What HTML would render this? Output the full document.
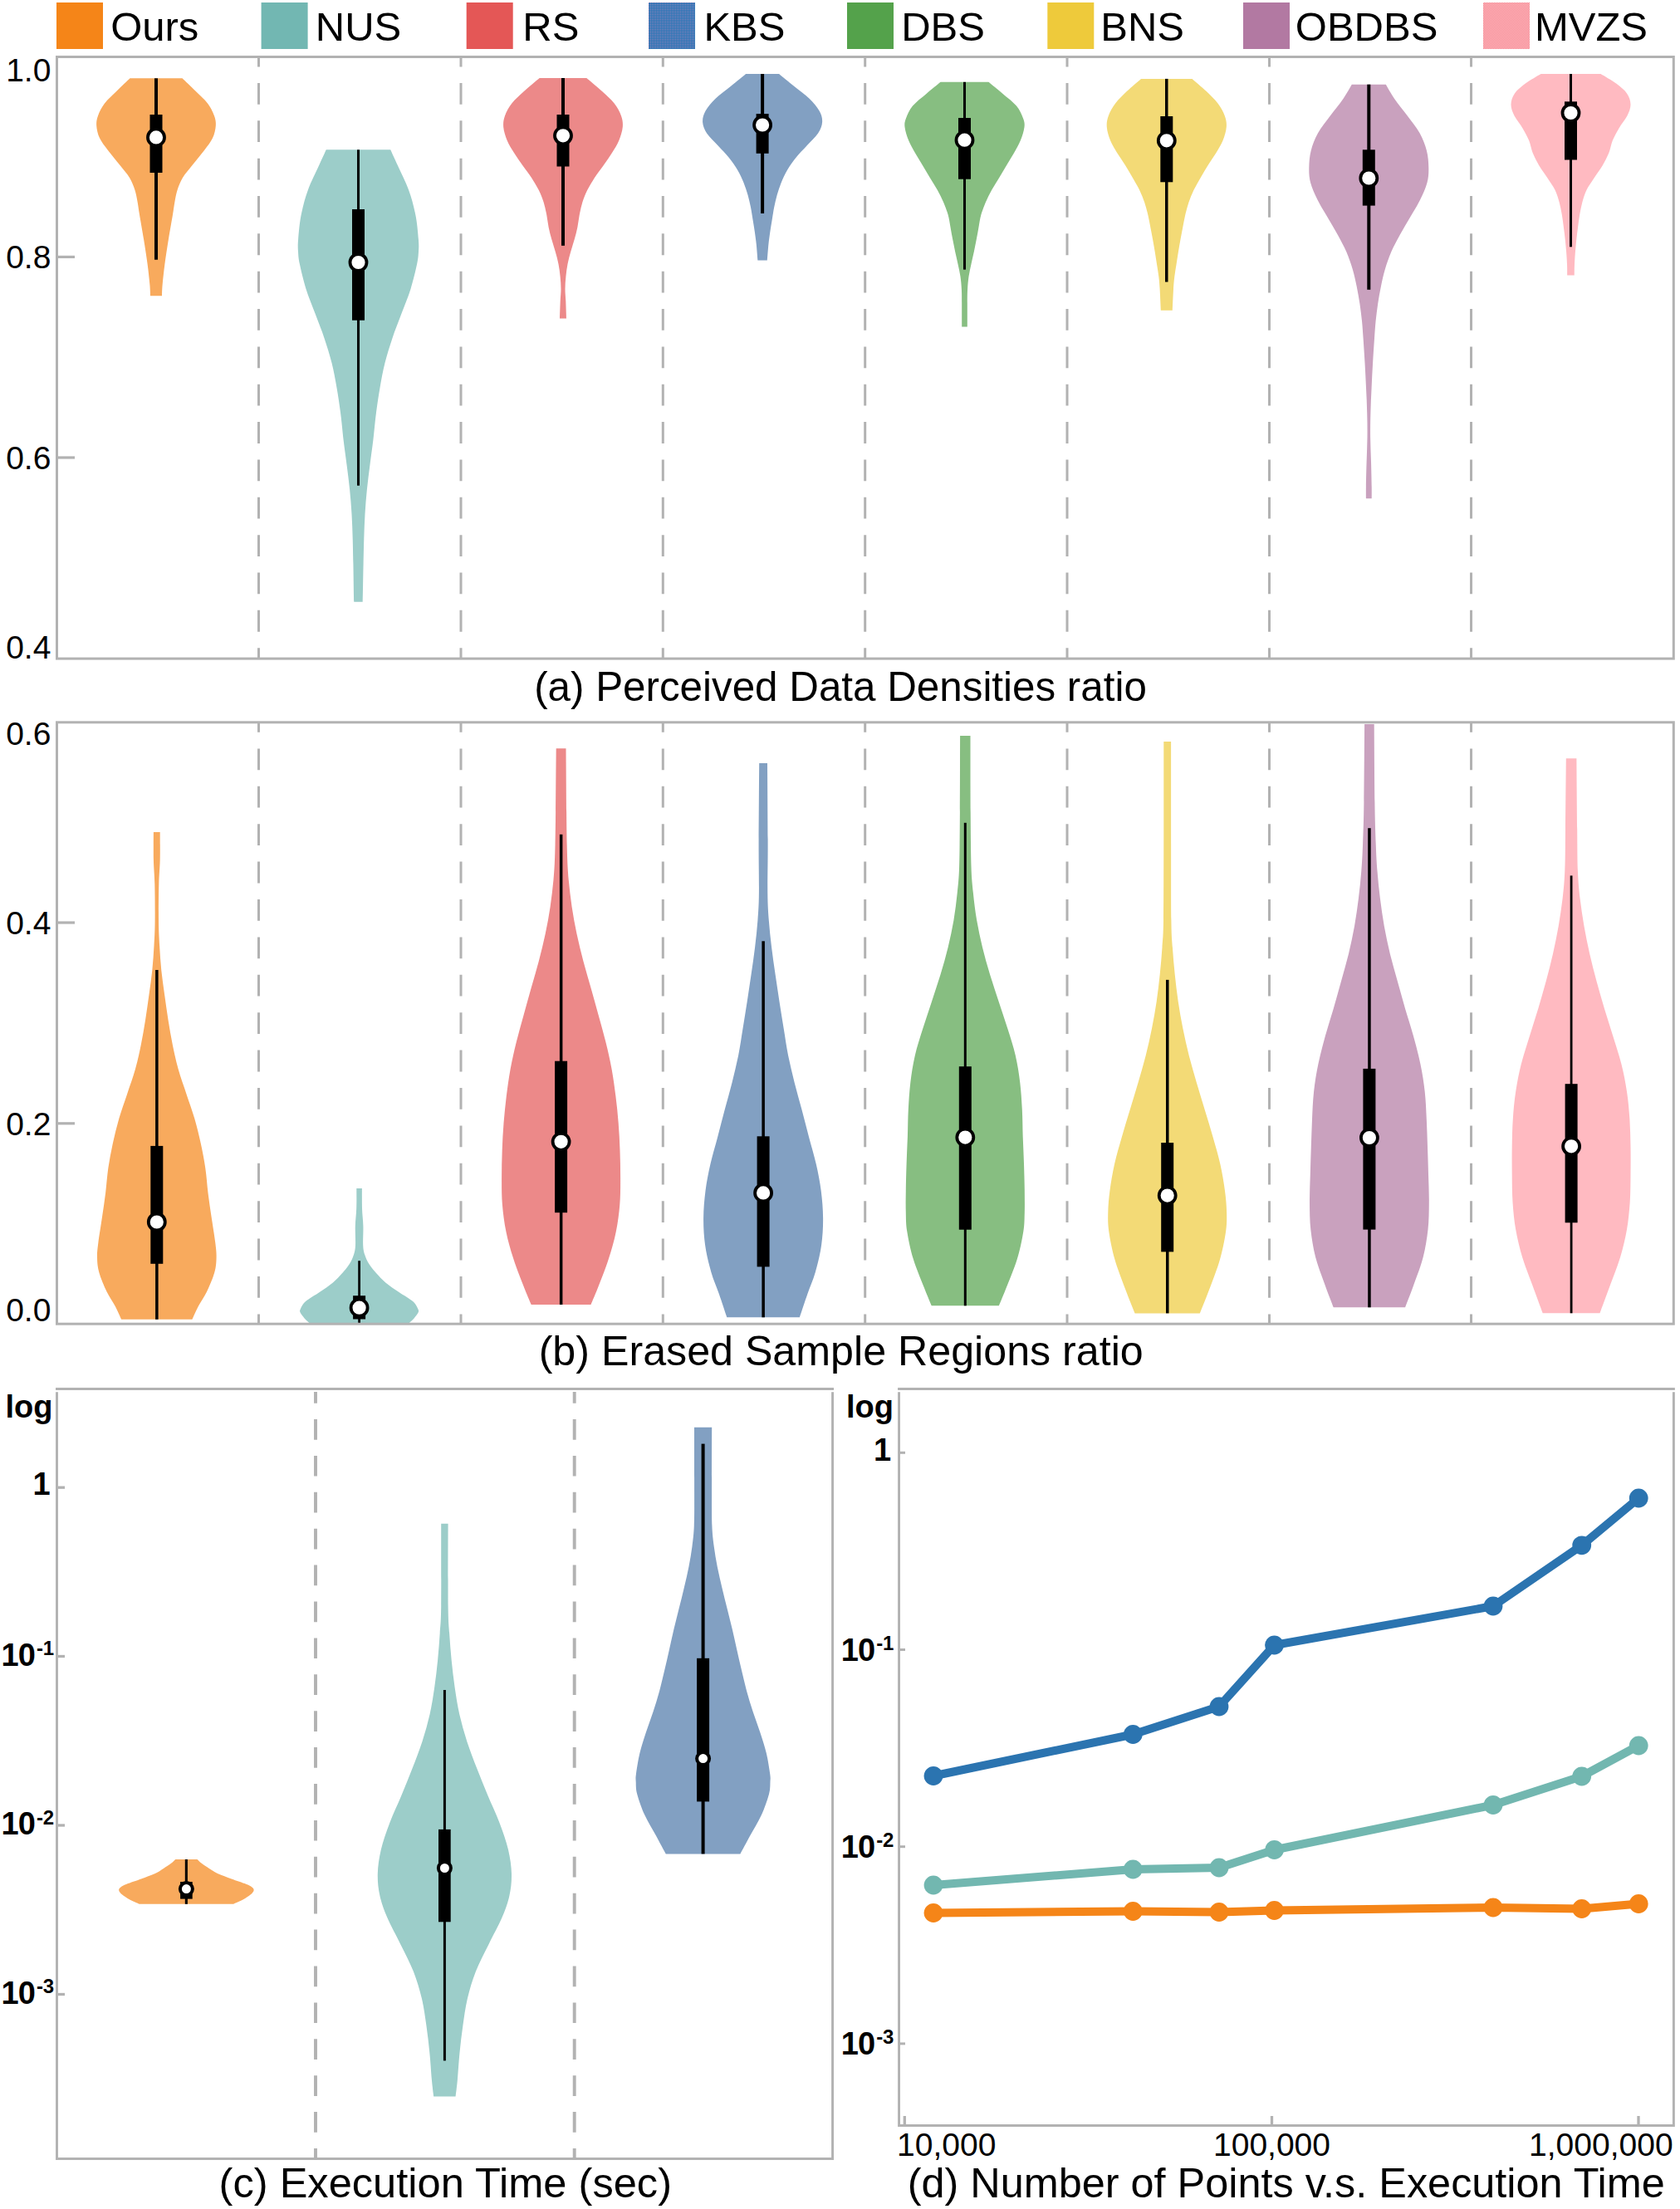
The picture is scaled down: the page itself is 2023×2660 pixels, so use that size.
<!DOCTYPE html>
<html lang="en"><head><meta charset="utf-8"><title>Sampling comparison</title>
<style>html,body{margin:0;padding:0;background:#fff}svg{display:block}</style></head>
<body>
<svg width="2023" height="2660" viewBox="0 0 2023 2660" font-family='"Liberation Sans", Arial, sans-serif' fill="#000">
<rect width="2023" height="2660" fill="#fff"/>
<defs><pattern id="pk" width="2" height="2" patternUnits="userSpaceOnUse"><rect width="2" height="2" fill="#2b77b7"/><rect x="1" y="1" width="1" height="1" fill="#a584b9"/></pattern><pattern id="pm" width="2" height="2" patternUnits="userSpaceOnUse"><rect width="2" height="2" fill="#ffc3c9"/><rect width="1" height="1" fill="#f4808a"/><rect x="1" y="1" width="1" height="1" fill="#f4808a"/></pattern></defs>
<g font-size="49">
<rect x="68.0" y="3" width="56" height="56" fill="#f58518"/>
<text x="133.2" y="49">Ours</text>
<rect x="314.6" y="3" width="56" height="56" fill="#72b7b2"/>
<text x="379.8" y="49">NUS</text>
<rect x="561.7" y="3" width="56" height="56" fill="#e45756"/>
<text x="629.3" y="49">RS</text>
<rect x="781.0" y="3" width="56" height="56" fill="url(#pk)"/>
<text x="847.4" y="49">KBS</text>
<rect x="1020.0" y="3" width="56" height="56" fill="#54a24b"/>
<text x="1085.2" y="49">DBS</text>
<rect x="1261.3" y="3" width="56" height="56" fill="#eeca3b"/>
<text x="1325.3" y="49">BNS</text>
<rect x="1497.0" y="3" width="56" height="56" fill="#b279a2"/>
<text x="1559.8" y="49">OBDBS</text>
<rect x="1786.0" y="3" width="56" height="56" fill="url(#pm)"/>
<text x="1847.9" y="49">MVZS</text>
</g>
<line x1="311.5" y1="68.5" x2="311.5" y2="793.0" stroke="#b2b2b2" stroke-width="3.0" stroke-dasharray="25.8 19.55" stroke-dashoffset="13.9"/>
<line x1="555.0" y1="68.5" x2="555.0" y2="793.0" stroke="#b2b2b2" stroke-width="3.0" stroke-dasharray="25.8 19.55" stroke-dashoffset="13.9"/>
<line x1="798.3" y1="68.5" x2="798.3" y2="793.0" stroke="#b2b2b2" stroke-width="3.0" stroke-dasharray="25.8 19.55" stroke-dashoffset="13.9"/>
<line x1="1041.7" y1="68.5" x2="1041.7" y2="793.0" stroke="#b2b2b2" stroke-width="3.0" stroke-dasharray="25.8 19.55" stroke-dashoffset="13.9"/>
<line x1="1285.0" y1="68.5" x2="1285.0" y2="793.0" stroke="#b2b2b2" stroke-width="3.0" stroke-dasharray="25.8 19.55" stroke-dashoffset="13.9"/>
<line x1="1528.5" y1="68.5" x2="1528.5" y2="793.0" stroke="#b2b2b2" stroke-width="3.0" stroke-dasharray="25.8 19.55" stroke-dashoffset="13.9"/>
<line x1="1771.5" y1="68.5" x2="1771.5" y2="793.0" stroke="#b2b2b2" stroke-width="3.0" stroke-dasharray="25.8 19.55" stroke-dashoffset="13.9"/>
<path d="M219.5 94.3C222.2 96.9 230.5 104.8 235.6 109.8C240.7 114.8 246.3 119.6 250.0 124.6C253.7 129.5 256.4 135.0 258.0 139.5C259.6 144.0 260.1 146.9 259.8 151.4C259.5 155.9 258.3 161.4 256.0 166.3C253.7 171.2 250.1 175.6 246.0 181.0C241.9 186.4 235.8 193.5 231.5 199.0C227.2 204.5 223.0 209.0 220.0 214.0C217.0 219.0 215.2 223.9 213.6 228.8C212.0 233.8 211.2 238.7 210.3 243.7C209.4 248.7 209.2 251.2 208.0 258.6C206.8 266.0 204.5 278.4 202.9 288.3C201.3 298.2 199.6 309.1 198.4 318.0C197.2 326.9 196.3 335.6 195.7 342.0C195.1 348.4 195.1 353.8 195.0 356.2L181.0 356.2C180.9 353.8 180.9 348.4 180.3 342.0C179.7 335.6 178.8 326.9 177.6 318.0C176.4 309.1 174.7 298.2 173.1 288.3C171.5 278.4 169.2 266.0 168.0 258.6C166.8 251.2 166.6 248.7 165.7 243.7C164.8 238.7 164.0 233.8 162.4 228.8C160.8 223.9 159.0 219.0 156.0 214.0C153.0 209.0 148.8 204.5 144.5 199.0C140.2 193.5 134.1 186.4 130.0 181.0C125.9 175.6 122.3 171.2 120.0 166.3C117.7 161.4 116.5 155.9 116.2 151.4C115.9 146.9 116.4 144.0 118.0 139.5C119.6 135.0 122.3 129.5 126.0 124.6C129.7 119.6 135.3 114.8 140.4 109.8C145.5 104.8 153.8 96.9 156.5 94.3Z" fill="#f8aa5d"/>
<rect x="186.0" y="94.3" width="4.0" height="218.4" fill="#000"/>
<rect x="180.5" y="138.0" width="15.0" height="70.0" fill="#000"/>
<circle cx="188.0" cy="165.4" r="10.0" fill="#fff" stroke="#000" stroke-width="3.8"/>
<path d="M470.2 180.3C471.6 183.4 475.1 190.9 478.8 199.0C482.5 207.1 488.5 218.9 492.1 228.8C495.7 238.7 498.3 248.7 500.3 258.6C502.3 268.5 503.3 280.9 503.9 288.3C504.5 295.7 504.3 298.1 504.0 303.0C503.7 307.9 503.7 310.5 502.1 318.0C500.5 325.5 497.6 338.0 494.5 347.9C491.4 357.8 487.2 367.7 483.5 377.6C479.8 387.5 475.7 397.5 472.4 407.4C469.1 417.3 466.0 427.1 463.5 437.0C461.0 446.9 459.2 457.1 457.5 467.0C455.8 476.9 454.4 486.2 453.0 496.7C451.6 507.2 450.6 519.3 449.4 529.8C448.1 540.3 446.8 549.6 445.5 559.5C444.2 569.4 442.9 579.4 441.9 589.3C440.9 599.2 440.1 609.1 439.5 619.0C438.9 628.9 438.6 638.9 438.3 648.8C438.0 658.7 437.9 666.0 437.6 678.6C437.3 691.2 436.9 717.0 436.7 724.7L426.3 724.7C426.1 717.0 425.7 691.2 425.4 678.6C425.1 666.0 425.0 658.7 424.7 648.8C424.4 638.9 424.1 628.9 423.5 619.0C422.9 609.1 422.1 599.2 421.1 589.3C420.1 579.4 418.8 569.4 417.5 559.5C416.2 549.6 414.9 540.3 413.6 529.8C412.4 519.3 411.4 507.2 410.0 496.7C408.6 486.2 407.2 476.9 405.5 467.0C403.8 457.1 402.0 446.9 399.5 437.0C397.0 427.1 393.9 417.3 390.6 407.4C387.3 397.5 383.2 387.5 379.5 377.6C375.8 367.7 371.6 357.8 368.5 347.9C365.4 338.0 362.5 325.5 360.9 318.0C359.3 310.5 359.3 307.9 359.0 303.0C358.7 298.1 358.5 295.7 359.1 288.3C359.7 280.9 360.7 268.5 362.7 258.6C364.7 248.7 367.3 238.7 370.9 228.8C374.5 218.9 380.5 207.1 384.2 199.0C387.9 190.9 391.4 183.4 392.8 180.3Z" fill="#9ccdc9"/>
<rect x="430.0" y="180.3" width="3.0" height="404.4" fill="#000"/>
<rect x="424.0" y="252.0" width="15.0" height="133.7" fill="#000"/>
<circle cx="431.5" cy="316.0" r="10.0" fill="#fff" stroke="#000" stroke-width="3.8"/>
<path d="M706.3 94.0C709.4 96.6 719.2 104.7 724.8 109.8C730.4 114.9 735.8 119.6 739.7 124.6C743.6 129.5 746.3 134.8 748.0 139.5C749.7 144.2 750.2 148.0 749.8 153.0C749.3 158.0 747.4 164.1 745.3 169.3C743.2 174.5 740.1 179.1 737.0 184.0C733.9 188.9 730.3 194.0 726.8 199.0C723.3 204.0 719.2 209.0 716.0 214.0C712.8 219.0 709.8 223.9 707.3 228.8C704.8 233.8 702.9 238.7 701.3 243.7C699.7 248.7 698.8 253.6 697.8 258.6C696.8 263.6 696.4 268.6 695.4 273.5C694.4 278.4 693.1 283.4 691.7 288.3C690.3 293.2 688.6 298.2 687.2 303.2C685.8 308.1 684.5 313.0 683.5 318.0C682.5 323.0 681.9 328.0 681.4 333.0C680.9 338.0 680.5 342.9 680.5 347.9C680.5 352.8 681.0 356.8 681.3 362.7C681.5 368.6 681.9 380.1 682.0 383.6L674.0 383.6C674.1 380.1 674.5 368.6 674.7 362.7C675.0 356.8 675.5 352.8 675.5 347.9C675.5 342.9 675.1 338.0 674.6 333.0C674.1 328.0 673.5 323.0 672.5 318.0C671.5 313.0 670.2 308.1 668.8 303.2C667.4 298.2 665.7 293.2 664.3 288.3C662.9 283.4 661.6 278.4 660.6 273.5C659.6 268.6 659.2 263.6 658.2 258.6C657.2 253.6 656.3 248.7 654.7 243.7C653.1 238.7 651.2 233.8 648.7 228.8C646.2 223.9 643.2 219.0 640.0 214.0C636.8 209.0 632.7 204.0 629.2 199.0C625.7 194.0 622.1 188.9 619.0 184.0C615.9 179.1 612.8 174.5 610.7 169.3C608.6 164.1 606.7 158.0 606.2 153.0C605.8 148.0 606.3 144.2 608.0 139.5C609.7 134.8 612.4 129.5 616.3 124.6C620.2 119.6 625.6 114.9 631.2 109.8C636.8 104.7 646.6 96.6 649.7 94.0Z" fill="#ec8989"/>
<rect x="676.0" y="94.0" width="4.0" height="201.8" fill="#000"/>
<rect x="670.5" y="138.0" width="15.0" height="62.5" fill="#000"/>
<circle cx="678.0" cy="163.3" r="10.0" fill="#fff" stroke="#000" stroke-width="3.8"/>
<path d="M938.1 89.0C941.1 91.5 950.0 98.8 956.1 103.8C962.2 108.8 969.5 113.7 974.6 118.7C979.7 123.7 984.0 128.9 986.6 133.6C989.2 138.3 990.4 142.5 990.1 147.0C989.9 151.5 988.2 155.7 985.1 160.4C982.0 165.1 976.2 170.3 971.7 175.2C967.2 180.1 962.3 185.0 958.3 190.0C954.3 195.0 950.8 200.0 947.9 205.0C945.0 210.0 942.7 215.0 940.7 220.0C938.7 225.0 937.1 229.9 935.7 234.8C934.3 239.7 933.2 244.7 932.2 249.6C931.2 254.5 930.5 259.5 929.7 264.5C928.9 269.5 928.0 274.4 927.3 279.4C926.6 284.4 926.0 288.6 925.4 294.3C924.8 300.0 924.1 310.4 923.8 313.6L912.4 313.6C912.1 310.4 911.4 300.0 910.8 294.3C910.2 288.6 909.6 284.4 908.9 279.4C908.2 274.4 907.3 269.5 906.5 264.5C905.7 259.5 905.0 254.5 904.0 249.6C903.0 244.7 901.9 239.7 900.5 234.8C899.1 229.9 897.5 225.0 895.5 220.0C893.5 215.0 891.2 210.0 888.3 205.0C885.4 200.0 881.9 195.0 877.9 190.0C873.9 185.0 869.0 180.1 864.5 175.2C860.0 170.3 854.2 165.1 851.1 160.4C848.0 155.7 846.4 151.5 846.1 147.0C845.9 142.5 847.0 138.3 849.6 133.6C852.2 128.9 856.5 123.7 861.6 118.7C866.7 113.7 874.0 108.8 880.1 103.8C886.2 98.8 895.1 91.5 898.1 89.0Z" fill="#82a0c2"/>
<rect x="916.1" y="89.0" width="4.0" height="168.0" fill="#000"/>
<rect x="910.6" y="137.0" width="15.0" height="47.8" fill="#000"/>
<circle cx="918.1" cy="150.5" r="10.0" fill="#fff" stroke="#000" stroke-width="3.8"/>
<path d="M1190.4 98.8C1193.2 101.1 1201.7 107.9 1207.3 112.7C1212.9 117.5 1219.9 122.6 1224.0 127.6C1228.1 132.6 1230.4 138.3 1232.0 142.5C1233.6 146.7 1234.0 148.5 1233.5 153.0C1233.0 157.5 1230.9 164.1 1228.8 169.3C1226.7 174.5 1223.8 179.2 1221.0 184.2C1218.2 189.1 1215.1 194.0 1212.1 199.0C1209.1 204.0 1206.2 209.0 1203.2 214.0C1200.2 219.0 1196.9 223.9 1194.2 228.8C1191.5 233.8 1188.9 238.7 1186.8 243.7C1184.7 248.7 1182.8 253.6 1181.4 258.6C1180.0 263.6 1179.4 268.6 1178.5 273.5C1177.6 278.4 1176.8 283.4 1175.8 288.3C1174.8 293.2 1173.8 298.2 1172.8 303.2C1171.8 308.1 1170.5 313.0 1169.5 318.0C1168.5 323.0 1167.2 328.0 1166.5 333.0C1165.8 338.0 1165.4 342.6 1165.1 347.9C1164.8 353.2 1164.8 357.4 1164.8 365.0C1164.8 372.6 1164.8 388.7 1164.8 393.4L1158.2 393.4C1158.2 388.7 1158.2 372.6 1158.2 365.0C1158.2 357.4 1158.2 353.2 1157.9 347.9C1157.6 342.6 1157.2 338.0 1156.5 333.0C1155.8 328.0 1154.5 323.0 1153.5 318.0C1152.5 313.0 1151.2 308.1 1150.2 303.2C1149.2 298.2 1148.2 293.2 1147.2 288.3C1146.2 283.4 1145.4 278.4 1144.5 273.5C1143.6 268.6 1143.0 263.6 1141.6 258.6C1140.2 253.6 1138.3 248.7 1136.2 243.7C1134.1 238.7 1131.5 233.8 1128.8 228.8C1126.1 223.9 1122.8 219.0 1119.8 214.0C1116.8 209.0 1113.9 204.0 1110.9 199.0C1107.9 194.0 1104.8 189.1 1102.0 184.2C1099.2 179.2 1096.3 174.5 1094.2 169.3C1092.1 164.1 1090.0 157.5 1089.5 153.0C1089.0 148.5 1089.4 146.7 1091.0 142.5C1092.6 138.3 1094.9 132.6 1099.0 127.6C1103.1 122.6 1110.1 117.5 1115.7 112.7C1121.3 107.9 1129.8 101.1 1132.6 98.8Z" fill="#87be81"/>
<rect x="1160.0" y="98.8" width="3.0" height="225.8" fill="#000"/>
<rect x="1154.0" y="142.0" width="15.0" height="73.7" fill="#000"/>
<circle cx="1161.5" cy="168.7" r="10.0" fill="#fff" stroke="#000" stroke-width="3.8"/>
<path d="M1435.6 94.9C1438.4 97.4 1447.3 104.8 1452.5 109.8C1457.7 114.8 1462.8 119.6 1466.5 124.6C1470.2 129.5 1473.1 134.8 1474.8 139.5C1476.5 144.2 1477.2 148.0 1476.8 153.0C1476.4 158.0 1474.6 164.1 1472.5 169.3C1470.4 174.5 1467.3 179.2 1464.3 184.2C1461.3 189.1 1457.7 194.0 1454.6 199.0C1451.5 204.0 1448.5 209.0 1445.7 214.0C1442.9 219.0 1439.9 223.9 1437.5 228.8C1435.1 233.8 1433.1 238.7 1431.4 243.7C1429.7 248.7 1428.5 253.6 1427.3 258.6C1426.1 263.6 1425.3 268.6 1424.3 273.5C1423.3 278.4 1422.4 283.4 1421.5 288.3C1420.6 293.2 1419.7 298.2 1418.9 303.2C1418.1 308.1 1417.4 313.0 1416.6 318.0C1415.8 323.0 1414.9 328.0 1414.3 333.0C1413.7 338.0 1413.4 341.1 1413.0 347.9C1412.6 354.7 1412.0 369.5 1411.8 373.8L1397.8 373.8C1397.6 369.5 1397.0 354.7 1396.6 347.9C1396.2 341.1 1395.9 338.0 1395.3 333.0C1394.7 328.0 1393.8 323.0 1393.0 318.0C1392.2 313.0 1391.5 308.1 1390.7 303.2C1389.9 298.2 1389.0 293.2 1388.1 288.3C1387.2 283.4 1386.3 278.4 1385.3 273.5C1384.3 268.6 1383.5 263.6 1382.3 258.6C1381.1 253.6 1379.9 248.7 1378.2 243.7C1376.5 238.7 1374.5 233.8 1372.1 228.8C1369.7 223.9 1366.7 219.0 1363.9 214.0C1361.0 209.0 1358.1 204.0 1355.0 199.0C1351.9 194.0 1348.3 189.1 1345.3 184.2C1342.3 179.2 1339.2 174.5 1337.1 169.3C1335.0 164.1 1333.2 158.0 1332.8 153.0C1332.4 148.0 1333.1 144.2 1334.8 139.5C1336.5 134.8 1339.4 129.5 1343.1 124.6C1346.8 119.6 1351.9 114.8 1357.1 109.8C1362.2 104.8 1371.2 97.4 1374.0 94.9Z" fill="#f3da76"/>
<rect x="1403.0" y="94.9" width="3.5" height="244.6" fill="#000"/>
<rect x="1397.3" y="140.0" width="15.0" height="79.3" fill="#000"/>
<circle cx="1404.8" cy="169.3" r="10.0" fill="#fff" stroke="#000" stroke-width="3.8"/>
<path d="M1668.8 101.7C1670.5 104.5 1674.7 112.4 1679.0 118.7C1683.3 125.0 1689.7 132.6 1694.8 139.5C1699.9 146.4 1705.9 153.5 1709.7 160.4C1713.5 167.3 1716.1 174.3 1717.9 181.2C1719.7 188.1 1720.2 195.6 1720.3 202.0C1720.4 208.4 1720.2 213.5 1718.5 219.9C1716.8 226.3 1713.4 233.8 1710.0 240.7C1706.6 247.6 1702.1 254.6 1698.1 261.5C1694.1 268.4 1689.7 275.4 1685.9 282.4C1682.1 289.3 1678.3 296.3 1675.3 303.2C1672.3 310.1 1670.0 317.1 1667.9 324.0C1665.8 330.9 1664.3 337.9 1662.9 344.9C1661.4 351.8 1660.2 358.8 1659.2 365.7C1658.2 372.6 1657.3 379.6 1656.6 386.5C1655.9 393.4 1655.6 399.0 1655.0 407.4C1654.4 415.8 1653.7 427.1 1653.1 437.0C1652.5 446.9 1652.0 457.1 1651.6 467.0C1651.1 476.9 1650.6 486.8 1650.4 496.7C1650.1 506.6 1650.0 516.5 1650.1 526.4C1650.2 536.3 1650.7 546.1 1651.0 556.0C1651.3 565.9 1651.6 578.6 1651.7 586.0C1651.8 593.4 1651.7 597.8 1651.7 600.2L1644.9 600.2C1644.9 597.8 1644.8 593.4 1644.9 586.0C1645.0 578.6 1645.3 565.9 1645.6 556.0C1645.9 546.1 1646.4 536.3 1646.5 526.4C1646.6 516.5 1646.5 506.6 1646.2 496.7C1646.0 486.8 1645.5 476.9 1645.0 467.0C1644.5 457.1 1644.1 446.9 1643.5 437.0C1642.9 427.1 1642.2 415.8 1641.6 407.4C1641.0 399.0 1640.7 393.4 1640.0 386.5C1639.3 379.6 1638.4 372.6 1637.4 365.7C1636.3 358.8 1635.2 351.8 1633.7 344.9C1632.2 337.9 1630.8 330.9 1628.7 324.0C1626.6 317.1 1624.3 310.1 1621.3 303.2C1618.3 296.3 1614.5 289.3 1610.7 282.4C1606.9 275.4 1602.5 268.4 1598.5 261.5C1594.5 254.6 1590.0 247.6 1586.6 240.7C1583.2 233.8 1579.8 226.3 1578.1 219.9C1576.4 213.5 1576.2 208.4 1576.3 202.0C1576.4 195.6 1576.9 188.1 1578.7 181.2C1580.5 174.3 1583.0 167.3 1586.9 160.4C1590.7 153.5 1596.7 146.4 1601.8 139.5C1606.9 132.6 1613.3 125.0 1617.6 118.7C1621.9 112.4 1626.1 104.5 1627.8 101.7Z" fill="#c9a1be"/>
<rect x="1646.3" y="101.7" width="4.0" height="247.1" fill="#000"/>
<rect x="1640.8" y="180.3" width="15.0" height="67.3" fill="#000"/>
<circle cx="1648.3" cy="214.5" r="10.0" fill="#fff" stroke="#000" stroke-width="3.8"/>
<path d="M1927.5 89.0C1930.7 91.0 1941.2 96.8 1946.5 100.8C1951.8 104.8 1956.4 108.5 1959.2 112.7C1962.0 116.9 1963.5 121.5 1963.5 126.0C1963.5 130.5 1961.7 134.8 1959.4 139.5C1957.1 144.2 1952.4 149.4 1949.5 154.4C1946.6 159.4 1943.8 164.3 1941.8 169.3C1939.8 174.3 1939.3 179.2 1937.3 184.2C1935.3 189.1 1932.8 194.0 1929.9 199.0C1927.0 204.0 1923.0 209.0 1919.8 214.0C1916.6 219.0 1912.9 223.9 1910.5 228.8C1908.1 233.8 1906.7 238.7 1905.3 243.7C1903.9 248.7 1903.1 253.6 1902.2 258.6C1901.3 263.6 1900.8 268.6 1900.1 273.5C1899.4 278.4 1898.8 283.4 1898.3 288.3C1897.8 293.2 1897.3 298.2 1896.9 303.2C1896.5 308.1 1896.2 313.3 1896.0 318.0C1895.8 322.7 1895.8 329.2 1895.8 331.5L1887.2 331.5C1887.2 329.2 1887.2 322.7 1887.0 318.0C1886.8 313.3 1886.5 308.1 1886.1 303.2C1885.7 298.2 1885.2 293.2 1884.7 288.3C1884.2 283.4 1883.6 278.4 1882.9 273.5C1882.2 268.6 1881.7 263.6 1880.8 258.6C1879.9 253.6 1879.1 248.7 1877.7 243.7C1876.3 238.7 1874.9 233.8 1872.5 228.8C1870.1 223.9 1866.4 219.0 1863.2 214.0C1860.0 209.0 1856.0 204.0 1853.1 199.0C1850.2 194.0 1847.7 189.1 1845.7 184.2C1843.7 179.2 1843.2 174.3 1841.2 169.3C1839.2 164.3 1836.4 159.4 1833.5 154.4C1830.6 149.4 1825.9 144.2 1823.6 139.5C1821.3 134.8 1819.5 130.5 1819.5 126.0C1819.5 121.5 1821.0 116.9 1823.8 112.7C1826.6 108.5 1831.2 104.8 1836.5 100.8C1841.8 96.8 1852.3 91.0 1855.5 89.0Z" fill="#ffbac1"/>
<rect x="1890.0" y="89.0" width="3.0" height="208.3" fill="#000"/>
<rect x="1884.0" y="122.3" width="15.0" height="70.2" fill="#000"/>
<circle cx="1891.5" cy="136.0" r="10.0" fill="#fff" stroke="#000" stroke-width="3.8"/>
<rect x="68.5" y="68.5" width="1946.8" height="724.6" fill="none" stroke="#b2b2b2" stroke-width="3.0"/>
<line x1="70.0" y1="309.4" x2="90.0" y2="309.4" stroke="#b2b2b2" stroke-width="3.2"/>
<line x1="70.0" y1="551.0" x2="90.0" y2="551.0" stroke="#b2b2b2" stroke-width="3.2"/>
<g font-size="39" text-anchor="end">
<text x="61.4" y="97.6">1.0</text>
<text x="61.4" y="323.2">0.8</text>
<text x="61.4" y="564.8">0.6</text>
<text x="61.4" y="792.7">0.4</text>
</g>
<text x="1012" y="843.6" font-size="49.35" text-anchor="middle">(a) Perceived Data Densities ratio</text>
<line x1="311.5" y1="869.8" x2="311.5" y2="1594.0" stroke="#b2b2b2" stroke-width="3.0" stroke-dasharray="25.8 19.6" stroke-dashoffset="13.8"/>
<line x1="555.0" y1="869.8" x2="555.0" y2="1594.0" stroke="#b2b2b2" stroke-width="3.0" stroke-dasharray="25.8 19.6" stroke-dashoffset="13.8"/>
<line x1="798.3" y1="869.8" x2="798.3" y2="1594.0" stroke="#b2b2b2" stroke-width="3.0" stroke-dasharray="25.8 19.6" stroke-dashoffset="13.8"/>
<line x1="1041.7" y1="869.8" x2="1041.7" y2="1594.0" stroke="#b2b2b2" stroke-width="3.0" stroke-dasharray="25.8 19.6" stroke-dashoffset="13.8"/>
<line x1="1285.0" y1="869.8" x2="1285.0" y2="1594.0" stroke="#b2b2b2" stroke-width="3.0" stroke-dasharray="25.8 19.6" stroke-dashoffset="13.8"/>
<line x1="1528.5" y1="869.8" x2="1528.5" y2="1594.0" stroke="#b2b2b2" stroke-width="3.0" stroke-dasharray="25.8 19.6" stroke-dashoffset="13.8"/>
<line x1="1771.5" y1="869.8" x2="1771.5" y2="1594.0" stroke="#b2b2b2" stroke-width="3.0" stroke-dasharray="25.8 19.6" stroke-dashoffset="13.8"/>
<clipPath id="cb"><rect x="68" y="868" width="1948" height="1726.2"/></clipPath>
<path d="M192.7 1001.9C192.7 1007.3 192.9 1024.2 192.7 1034.6C192.5 1045.0 191.6 1052.0 191.3 1064.4C191.0 1076.8 190.9 1096.6 191.0 1109.0C191.1 1121.4 191.6 1128.9 192.1 1138.8C192.7 1148.7 193.3 1158.7 194.3 1168.6C195.3 1178.5 196.8 1188.4 198.2 1198.3C199.6 1208.2 200.9 1218.1 202.5 1228.0C204.1 1237.9 205.8 1248.0 207.8 1257.9C209.8 1267.8 211.9 1277.7 214.7 1287.6C217.5 1297.5 221.2 1307.5 224.5 1317.4C227.8 1327.3 231.4 1337.1 234.3 1347.0C237.2 1356.9 239.6 1367.0 241.8 1377.0C244.0 1387.0 245.9 1396.8 247.3 1406.7C248.8 1416.6 249.3 1426.5 250.5 1436.4C251.7 1446.3 253.2 1456.1 254.7 1466.0C256.2 1475.9 258.2 1488.0 259.2 1496.0C260.2 1504.0 260.7 1507.8 260.6 1513.8C260.5 1519.8 260.3 1524.8 258.4 1531.7C256.5 1538.7 252.3 1548.6 249.0 1555.5C245.7 1562.4 241.7 1567.5 238.8 1573.0C235.9 1578.5 232.7 1586.2 231.5 1588.8L146.1 1588.8C144.9 1586.2 141.7 1578.5 138.8 1573.0C135.9 1567.5 131.9 1562.4 128.6 1555.5C125.3 1548.6 121.1 1538.7 119.2 1531.7C117.3 1524.8 117.1 1519.8 117.0 1513.8C116.9 1507.8 117.4 1504.0 118.4 1496.0C119.4 1488.0 121.5 1475.9 122.9 1466.0C124.4 1456.1 125.9 1446.3 127.1 1436.4C128.3 1426.5 128.9 1416.6 130.3 1406.7C131.8 1396.8 133.6 1387.0 135.8 1377.0C138.0 1367.0 140.4 1356.9 143.3 1347.0C146.2 1337.1 149.8 1327.3 153.1 1317.4C156.4 1307.5 160.1 1297.5 162.9 1287.6C165.7 1277.7 167.8 1267.8 169.8 1257.9C171.8 1248.0 173.5 1237.9 175.1 1228.0C176.7 1218.1 178.0 1208.2 179.4 1198.3C180.8 1188.4 182.3 1178.5 183.3 1168.6C184.3 1158.7 184.9 1148.7 185.5 1138.8C186.1 1128.9 186.5 1121.4 186.6 1109.0C186.7 1096.6 186.6 1076.8 186.3 1064.4C186.0 1052.0 185.1 1045.0 184.9 1034.6C184.7 1024.2 184.9 1007.3 184.9 1001.9Z" fill="#f8aa5d"/>
<rect x="187.1" y="1168.0" width="3.5" height="420.8" fill="#000"/>
<rect x="181.3" y="1379.9" width="15.0" height="141.9" fill="#000"/>
<circle cx="188.8" cy="1471.5" r="10.0" fill="#fff" stroke="#000" stroke-width="3.8"/>
<path d="M435.9 1431.0C435.9 1435.0 435.8 1447.4 436.0 1455.0C436.2 1462.6 437.2 1469.1 437.4 1476.5C437.6 1483.9 436.9 1493.5 437.2 1499.2C437.5 1504.9 437.9 1506.7 439.1 1510.5C440.3 1514.3 441.9 1518.0 444.2 1521.8C446.5 1525.5 449.6 1529.2 453.0 1533.0C456.4 1536.8 459.8 1540.6 464.3 1544.4C468.8 1548.2 474.6 1551.9 480.1 1555.7C485.6 1559.5 493.2 1563.6 497.1 1567.0C501.0 1570.4 502.1 1573.7 503.2 1576.0C504.3 1578.3 504.4 1578.7 503.6 1580.6C502.8 1582.5 500.5 1585.2 498.6 1587.4C496.7 1589.6 493.2 1592.5 492.1 1593.5L373.1 1593.5C372.0 1592.5 368.5 1589.6 366.6 1587.4C364.7 1585.2 362.4 1582.5 361.6 1580.6C360.8 1578.7 360.9 1578.3 362.0 1576.0C363.1 1573.7 364.2 1570.4 368.1 1567.0C372.0 1563.6 379.6 1559.5 385.1 1555.7C390.6 1551.9 396.4 1548.2 400.9 1544.4C405.4 1540.6 408.9 1536.8 412.2 1533.0C415.6 1529.2 418.7 1525.5 421.0 1521.8C423.3 1518.0 424.9 1514.3 426.1 1510.5C427.3 1506.7 427.7 1504.9 428.0 1499.2C428.3 1493.5 427.6 1483.9 427.8 1476.5C428.0 1469.1 429.0 1462.6 429.2 1455.0C429.5 1447.4 429.3 1435.0 429.3 1431.0Z" fill="#9ccdc9"/>
<rect x="431.2" y="1518.2" width="2.8" height="75.3" fill="#000"/>
<rect x="425.1" y="1560.2" width="15.0" height="28.3" fill="#000"/>
<circle cx="432.6" cy="1574.7" r="10.0" fill="#fff" stroke="#000" stroke-width="3.8"/>
<path d="M681.5 901.2C681.6 914.0 681.9 956.9 682.1 977.8C682.3 998.7 682.5 1013.1 682.9 1026.7C683.3 1040.3 683.8 1048.4 684.7 1059.3C685.7 1070.2 687.0 1081.0 688.6 1091.9C690.2 1102.8 692.2 1113.7 694.5 1124.5C696.8 1135.3 699.5 1146.2 702.3 1157.0C705.1 1167.8 708.5 1178.7 711.5 1189.6C714.5 1200.5 717.6 1211.3 720.6 1222.2C723.6 1233.1 726.7 1243.9 729.4 1254.8C732.1 1265.7 734.6 1276.5 736.6 1287.4C738.6 1298.3 740.0 1309.1 741.4 1320.0C742.8 1330.9 743.9 1341.7 744.7 1352.6C745.6 1363.5 746.1 1374.3 746.5 1385.2C746.9 1396.1 747.1 1406.9 747.1 1417.8C747.1 1428.7 747.2 1439.5 746.3 1450.4C745.4 1461.3 744.0 1472.1 741.8 1483.0C739.6 1493.9 736.5 1504.7 733.0 1515.6C729.5 1526.5 724.5 1539.0 720.9 1548.2C717.3 1557.4 713.1 1567.2 711.5 1571.0L639.7 1571.0C638.1 1567.2 633.9 1557.4 630.3 1548.2C626.7 1539.0 621.7 1526.5 618.2 1515.6C614.7 1504.7 611.6 1493.9 609.4 1483.0C607.2 1472.1 605.8 1461.3 604.9 1450.4C604.0 1439.5 604.1 1428.7 604.1 1417.8C604.1 1406.9 604.3 1396.1 604.7 1385.2C605.1 1374.3 605.6 1363.5 606.5 1352.6C607.4 1341.7 608.5 1330.9 609.8 1320.0C611.2 1309.1 612.6 1298.3 614.6 1287.4C616.6 1276.5 619.1 1265.7 621.8 1254.8C624.5 1243.9 627.6 1233.1 630.6 1222.2C633.6 1211.3 636.7 1200.5 639.7 1189.6C642.8 1178.7 646.1 1167.8 648.9 1157.0C651.7 1146.2 654.4 1135.3 656.7 1124.5C659.0 1113.7 661.0 1102.8 662.6 1091.9C664.2 1081.0 665.5 1070.2 666.5 1059.3C667.5 1048.4 667.9 1040.3 668.3 1026.7C668.7 1013.1 668.9 998.7 669.1 977.8C669.3 956.9 669.6 914.0 669.7 901.2Z" fill="#ec8989"/>
<rect x="673.9" y="1004.8" width="3.5" height="566.2" fill="#000"/>
<rect x="668.1" y="1277.7" width="15.0" height="182.5" fill="#000"/>
<circle cx="675.6" cy="1374.8" r="10.0" fill="#fff" stroke="#000" stroke-width="3.8"/>
<path d="M924.0 919.1C924.1 934.3 924.5 984.3 924.6 1010.4C924.7 1036.5 924.1 1059.3 924.3 1075.6C924.5 1091.9 925.0 1097.3 925.8 1108.2C926.6 1119.1 927.8 1130.0 929.1 1140.8C930.4 1151.6 932.0 1162.4 933.6 1173.3C935.2 1184.2 936.8 1195.1 938.5 1206.0C940.2 1216.9 941.9 1227.7 943.7 1238.5C945.5 1249.3 946.9 1260.1 949.1 1271.0C951.3 1281.9 954.0 1292.8 956.7 1303.7C959.4 1314.6 962.6 1325.4 965.5 1336.3C968.4 1347.2 971.1 1358.0 974.0 1368.9C976.9 1379.8 980.2 1390.7 982.7 1401.5C985.2 1412.3 987.3 1423.1 988.7 1434.0C990.1 1444.9 991.0 1455.8 991.1 1466.7C991.2 1477.6 990.6 1488.4 989.1 1499.3C987.6 1510.2 984.6 1522.1 981.8 1531.9C979.0 1541.7 975.5 1548.9 972.4 1558.0C969.2 1567.1 964.5 1581.6 962.9 1586.3L875.3 1586.3C873.7 1581.6 869.0 1567.1 865.8 1558.0C862.7 1548.9 859.2 1541.7 856.4 1531.9C853.6 1522.1 850.6 1510.2 849.1 1499.3C847.6 1488.4 847.0 1477.6 847.1 1466.7C847.2 1455.8 848.1 1444.9 849.5 1434.0C850.9 1423.1 853.0 1412.3 855.5 1401.5C858.0 1390.7 861.3 1379.8 864.2 1368.9C867.1 1358.0 869.8 1347.2 872.7 1336.3C875.6 1325.4 878.8 1314.6 881.5 1303.7C884.2 1292.8 886.9 1281.9 889.1 1271.0C891.3 1260.1 892.7 1249.3 894.5 1238.5C896.3 1227.7 898.0 1216.9 899.7 1206.0C901.4 1195.1 903.0 1184.2 904.6 1173.3C906.2 1162.4 907.8 1151.6 909.1 1140.8C910.4 1130.0 911.6 1119.1 912.4 1108.2C913.2 1097.3 913.7 1091.9 913.9 1075.6C914.1 1059.3 913.5 1036.5 913.6 1010.4C913.7 984.3 914.1 934.3 914.2 919.1Z" fill="#82a0c2"/>
<rect x="917.4" y="1133.3" width="3.5" height="453.0" fill="#000"/>
<rect x="911.6" y="1368.3" width="15.0" height="157.1" fill="#000"/>
<circle cx="919.1" cy="1436.4" r="10.0" fill="#fff" stroke="#000" stroke-width="3.8"/>
<path d="M1168.5 885.9C1168.5 901.2 1168.5 951.6 1168.7 977.8C1168.9 1004.0 1169.0 1026.7 1169.5 1043.0C1170.0 1059.3 1170.8 1064.7 1171.9 1075.6C1173.0 1086.5 1174.3 1097.3 1176.2 1108.2C1178.1 1119.1 1180.4 1130.0 1183.0 1140.8C1185.6 1151.6 1188.7 1162.4 1192.0 1173.3C1195.3 1184.2 1199.0 1195.1 1202.6 1206.0C1206.1 1216.9 1209.9 1227.7 1213.3 1238.5C1216.7 1249.3 1220.3 1260.1 1222.8 1271.0C1225.3 1281.9 1227.0 1292.8 1228.3 1303.7C1229.6 1314.6 1230.2 1325.4 1230.8 1336.3C1231.4 1347.2 1231.3 1358.0 1231.7 1368.9C1232.1 1379.8 1232.7 1390.7 1233.0 1401.5C1233.3 1412.3 1233.7 1424.2 1233.8 1434.0C1233.9 1443.8 1234.0 1451.8 1233.8 1460.0C1233.5 1468.2 1233.8 1473.7 1232.3 1483.0C1230.8 1492.3 1228.3 1504.7 1225.0 1515.6C1221.7 1526.5 1216.4 1538.8 1212.7 1548.2C1209.0 1557.7 1204.5 1568.3 1202.9 1572.3L1121.7 1572.3C1120.1 1568.3 1115.6 1557.7 1111.9 1548.2C1108.2 1538.8 1102.9 1526.5 1099.6 1515.6C1096.3 1504.7 1093.8 1492.3 1092.3 1483.0C1090.8 1473.7 1091.0 1468.2 1090.8 1460.0C1090.5 1451.8 1090.7 1443.8 1090.8 1434.0C1090.9 1424.2 1091.2 1412.3 1091.6 1401.5C1091.9 1390.7 1092.5 1379.8 1092.9 1368.9C1093.3 1358.0 1093.2 1347.2 1093.8 1336.3C1094.4 1325.4 1095.0 1314.6 1096.3 1303.7C1097.6 1292.8 1099.3 1281.9 1101.8 1271.0C1104.3 1260.1 1107.9 1249.3 1111.3 1238.5C1114.7 1227.7 1118.5 1216.9 1122.0 1206.0C1125.5 1195.1 1129.3 1184.2 1132.6 1173.3C1135.9 1162.4 1139.0 1151.6 1141.6 1140.8C1144.2 1130.0 1146.5 1119.1 1148.4 1108.2C1150.2 1097.3 1151.6 1086.5 1152.7 1075.6C1153.8 1064.7 1154.6 1059.3 1155.1 1043.0C1155.6 1026.7 1155.7 1004.0 1155.9 977.8C1156.1 951.6 1156.1 901.2 1156.1 885.9Z" fill="#87be81"/>
<rect x="1160.8" y="990.8" width="3.0" height="581.5" fill="#000"/>
<rect x="1154.8" y="1284.2" width="15.0" height="196.5" fill="#000"/>
<circle cx="1162.3" cy="1369.6" r="10.0" fill="#fff" stroke="#000" stroke-width="3.8"/>
<path d="M1410.1 893.0C1410.1 912.6 1410.1 974.5 1410.1 1010.4C1410.2 1046.3 1410.1 1086.5 1410.4 1108.2C1410.7 1129.9 1411.2 1130.0 1411.9 1140.8C1412.6 1151.6 1413.6 1162.4 1414.7 1173.3C1415.8 1184.2 1417.1 1195.1 1418.7 1206.0C1420.3 1216.9 1422.2 1227.7 1424.4 1238.5C1426.6 1249.3 1429.0 1260.1 1431.7 1271.0C1434.5 1281.9 1437.7 1292.8 1440.9 1303.7C1444.1 1314.6 1447.4 1325.4 1450.7 1336.3C1454.0 1347.2 1457.4 1358.0 1460.5 1368.9C1463.6 1379.8 1466.9 1390.7 1469.3 1401.5C1471.7 1412.3 1473.7 1424.2 1475.0 1434.0C1476.3 1443.8 1476.9 1451.8 1477.1 1460.0C1477.3 1468.2 1477.4 1473.7 1476.1 1483.0C1474.8 1492.3 1472.3 1504.7 1469.3 1515.6C1466.3 1526.5 1462.0 1537.2 1457.9 1548.2C1453.8 1559.2 1447.0 1575.9 1444.8 1581.4L1366.6 1581.4C1364.4 1575.9 1357.6 1559.2 1353.5 1548.2C1349.4 1537.2 1345.1 1526.5 1342.1 1515.6C1339.1 1504.7 1336.6 1492.3 1335.3 1483.0C1334.0 1473.7 1334.1 1468.2 1334.3 1460.0C1334.5 1451.8 1335.1 1443.8 1336.4 1434.0C1337.7 1424.2 1339.7 1412.3 1342.1 1401.5C1344.5 1390.7 1347.8 1379.8 1350.9 1368.9C1354.0 1358.0 1357.4 1347.2 1360.7 1336.3C1364.0 1325.4 1367.3 1314.6 1370.5 1303.7C1373.7 1292.8 1377.0 1281.9 1379.7 1271.0C1382.5 1260.1 1384.8 1249.3 1387.0 1238.5C1389.2 1227.7 1391.1 1216.9 1392.7 1206.0C1394.3 1195.1 1395.6 1184.2 1396.7 1173.3C1397.8 1162.4 1398.8 1151.6 1399.5 1140.8C1400.2 1130.0 1400.7 1129.9 1401.0 1108.2C1401.3 1086.5 1401.2 1046.3 1401.3 1010.4C1401.3 974.5 1401.3 912.6 1401.3 893.0Z" fill="#f3da76"/>
<rect x="1404.0" y="1179.9" width="3.5" height="401.5" fill="#000"/>
<rect x="1398.2" y="1376.0" width="15.0" height="131.4" fill="#000"/>
<circle cx="1405.7" cy="1439.6" r="10.0" fill="#fff" stroke="#000" stroke-width="3.8"/>
<path d="M1654.7 872.0C1654.8 887.6 1655.1 941.8 1655.4 965.7C1655.7 989.6 1656.2 1001.7 1656.7 1015.5C1657.2 1029.3 1657.6 1037.6 1658.5 1048.7C1659.4 1059.8 1660.5 1070.9 1661.9 1082.0C1663.3 1093.1 1664.8 1104.1 1666.8 1115.2C1668.8 1126.3 1671.1 1137.3 1673.8 1148.4C1676.5 1159.5 1679.8 1170.5 1682.8 1181.6C1685.9 1192.7 1688.9 1203.7 1692.1 1214.8C1695.3 1225.9 1699.1 1236.9 1702.1 1248.0C1705.2 1259.1 1708.1 1270.2 1710.4 1281.3C1712.7 1292.4 1714.5 1303.4 1715.7 1314.5C1716.9 1325.6 1717.3 1336.6 1717.8 1347.7C1718.4 1358.8 1718.6 1369.9 1719.0 1381.0C1719.4 1392.1 1719.7 1403.1 1720.0 1414.2C1720.3 1425.3 1720.9 1436.3 1720.8 1447.4C1720.7 1458.5 1720.7 1469.5 1719.5 1480.6C1718.3 1491.7 1716.5 1502.7 1713.7 1513.8C1710.9 1524.9 1706.0 1536.9 1702.4 1547.0C1698.8 1557.1 1693.8 1569.8 1692.1 1574.3L1605.7 1574.3C1604.0 1569.8 1599.0 1557.1 1595.4 1547.0C1591.8 1536.9 1587.0 1524.9 1584.1 1513.8C1581.3 1502.7 1579.5 1491.7 1578.3 1480.6C1577.1 1469.5 1577.1 1458.5 1577.0 1447.4C1576.9 1436.3 1577.5 1425.3 1577.8 1414.2C1578.1 1403.1 1578.4 1392.1 1578.8 1381.0C1579.2 1369.9 1579.5 1358.8 1580.0 1347.7C1580.5 1336.6 1580.9 1325.6 1582.1 1314.5C1583.3 1303.4 1585.1 1292.4 1587.4 1281.3C1589.7 1270.2 1592.7 1259.1 1595.7 1248.0C1598.8 1236.9 1602.5 1225.9 1605.7 1214.8C1608.9 1203.7 1612.0 1192.7 1615.0 1181.6C1618.0 1170.5 1621.3 1159.5 1624.0 1148.4C1626.7 1137.3 1629.0 1126.3 1631.0 1115.2C1633.0 1104.1 1634.5 1093.1 1635.9 1082.0C1637.3 1070.9 1638.4 1059.8 1639.3 1048.7C1640.2 1037.6 1640.6 1029.3 1641.1 1015.5C1641.6 1001.7 1642.1 989.6 1642.4 965.7C1642.7 941.8 1643.0 887.6 1643.1 872.0Z" fill="#c9a1be"/>
<rect x="1647.2" y="997.2" width="3.5" height="577.1" fill="#000"/>
<rect x="1641.4" y="1286.9" width="15.0" height="193.7" fill="#000"/>
<circle cx="1648.9" cy="1370.0" r="10.0" fill="#fff" stroke="#000" stroke-width="3.8"/>
<path d="M1898.4 913.2C1898.5 927.5 1898.9 976.3 1899.2 998.9C1899.4 1021.5 1899.3 1034.9 1899.9 1048.7C1900.5 1062.5 1901.3 1070.9 1902.6 1082.0C1903.9 1093.1 1905.6 1104.1 1907.5 1115.2C1909.4 1126.3 1911.7 1137.3 1914.2 1148.4C1916.7 1159.5 1919.5 1170.5 1922.5 1181.6C1925.5 1192.7 1928.7 1203.7 1932.0 1214.8C1935.3 1225.9 1939.0 1236.9 1942.4 1248.0C1945.8 1259.1 1949.6 1270.2 1952.4 1281.3C1955.2 1292.4 1957.3 1303.4 1959.0 1314.5C1960.7 1325.6 1961.6 1336.6 1962.4 1347.7C1963.1 1358.8 1963.3 1369.9 1963.5 1381.0C1963.7 1392.1 1963.6 1403.1 1963.5 1414.2C1963.4 1425.3 1963.4 1436.3 1962.7 1447.4C1961.9 1458.5 1960.9 1469.5 1959.0 1480.6C1957.1 1491.7 1954.4 1502.7 1951.1 1513.8C1947.8 1524.9 1943.2 1535.8 1939.1 1547.0C1935.0 1558.2 1928.6 1575.6 1926.5 1581.3L1857.7 1581.3C1855.6 1575.6 1849.2 1558.2 1845.1 1547.0C1841.0 1535.8 1836.4 1524.9 1833.1 1513.8C1829.8 1502.7 1827.1 1491.7 1825.2 1480.6C1823.3 1469.5 1822.2 1458.5 1821.5 1447.4C1820.8 1436.3 1820.8 1425.3 1820.7 1414.2C1820.6 1403.1 1820.5 1392.1 1820.7 1381.0C1820.9 1369.9 1821.0 1358.8 1821.8 1347.7C1822.5 1336.6 1823.5 1325.6 1825.2 1314.5C1826.9 1303.4 1829.0 1292.4 1831.8 1281.3C1834.6 1270.2 1838.4 1259.1 1841.8 1248.0C1845.2 1236.9 1848.9 1225.9 1852.2 1214.8C1855.5 1203.7 1858.7 1192.7 1861.7 1181.6C1864.7 1170.5 1867.5 1159.5 1870.0 1148.4C1872.5 1137.3 1874.8 1126.3 1876.7 1115.2C1878.6 1104.1 1880.3 1093.1 1881.6 1082.0C1882.9 1070.9 1883.7 1062.5 1884.3 1048.7C1884.9 1034.9 1884.8 1021.5 1885.0 998.9C1885.2 976.3 1885.7 927.5 1885.8 913.2Z" fill="#ffbac1"/>
<rect x="1890.7" y="1054.4" width="2.8" height="526.9" fill="#000"/>
<rect x="1884.6" y="1305.2" width="15.0" height="167.1" fill="#000"/>
<circle cx="1892.1" cy="1380.3" r="10.0" fill="#fff" stroke="#000" stroke-width="3.8"/>
<rect x="68.5" y="869.8" width="1946.8" height="724.4" fill="none" stroke="#b2b2b2" stroke-width="3.0"/>
<line x1="70.0" y1="1111.0" x2="90.0" y2="1111.0" stroke="#b2b2b2" stroke-width="3.2"/>
<line x1="70.0" y1="1352.8" x2="90.0" y2="1352.8" stroke="#b2b2b2" stroke-width="3.2"/>
<g font-size="39" text-anchor="end">
<text x="61.4" y="896.8">0.6</text>
<text x="61.4" y="1124.8">0.4</text>
<text x="61.4" y="1366.6">0.2</text>
<text x="61.4" y="1591.0">0.0</text>
</g>
<text x="1012.7" y="1643.6" font-size="50.2" text-anchor="middle">(b) Erased Sample Regions ratio</text>
<line x1="380.0" y1="1676.0" x2="380.0" y2="2599.0" stroke="#b2b2b2" stroke-width="3.9" stroke-dasharray="24.7 19.2" stroke-dashoffset="10.9"/>
<line x1="691.7" y1="1676.0" x2="691.7" y2="2599.0" stroke="#b2b2b2" stroke-width="3.9" stroke-dasharray="24.7 19.2" stroke-dashoffset="10.9"/>
<path d="M237.5 2239.0C238.4 2239.8 240.4 2242.0 242.8 2243.8C245.2 2245.6 248.6 2247.9 251.9 2250.0C255.2 2252.1 258.0 2254.2 262.5 2256.3C267.0 2258.4 273.2 2260.4 278.8 2262.5C284.4 2264.6 292.2 2267.1 296.3 2268.8C300.4 2270.5 301.8 2271.2 303.4 2272.5C304.9 2273.8 305.9 2274.8 305.6 2276.3C305.4 2277.8 304.1 2279.4 301.9 2281.3C299.7 2283.2 296.0 2285.6 292.5 2287.5C289.0 2289.4 282.8 2291.9 280.9 2292.8L167.9 2292.8C166.0 2291.9 159.8 2289.4 156.3 2287.5C152.8 2285.6 149.1 2283.2 146.9 2281.3C144.7 2279.4 143.4 2277.8 143.2 2276.3C142.9 2274.8 143.8 2273.8 145.4 2272.5C147.0 2271.2 148.4 2270.5 152.5 2268.8C156.6 2267.1 164.4 2264.6 170.0 2262.5C175.6 2260.4 181.8 2258.4 186.3 2256.3C190.8 2254.2 193.6 2252.1 196.9 2250.0C200.2 2247.9 203.6 2245.6 206.0 2243.8C208.4 2242.0 210.4 2239.8 211.3 2239.0Z" fill="#f8aa5d"/>
<rect x="222.8" y="2239.0" width="3.1" height="53.8" fill="#000"/>
<rect x="217.1" y="2266.0" width="14.6" height="20.6" fill="#000"/>
<circle cx="224.4" cy="2274.6" r="7.5" fill="#fff" stroke="#000" stroke-width="4.0"/>
<path d="M539.6 1834.7C539.6 1851.2 539.4 1912.0 539.6 1934.0C539.9 1956.0 540.4 1955.7 541.1 1966.6C541.8 1977.5 542.6 1988.3 543.7 1999.2C544.8 2010.1 546.0 2020.9 547.6 2031.8C549.2 2042.7 550.8 2053.5 553.3 2064.4C555.8 2075.3 558.8 2086.2 562.3 2097.0C565.8 2107.8 570.1 2118.7 574.3 2129.5C578.5 2140.3 582.9 2151.1 587.4 2162.0C591.9 2172.9 597.3 2183.8 601.4 2194.7C605.5 2205.6 609.6 2217.0 612.0 2227.3C614.4 2237.6 615.8 2247.4 616.0 2256.6C616.2 2265.8 615.3 2274.0 613.4 2282.7C611.5 2291.4 608.8 2299.0 604.6 2308.8C600.4 2318.6 593.7 2330.6 588.4 2341.4C583.1 2352.2 577.1 2363.1 572.9 2373.9C568.6 2384.8 565.5 2395.6 562.9 2406.5C560.3 2417.4 559.0 2428.2 557.4 2439.1C555.8 2450.0 554.6 2460.8 553.5 2471.7C552.4 2482.6 551.7 2495.5 550.9 2504.3C550.1 2513.1 549.0 2521.1 548.6 2524.5L522.2 2524.5C521.8 2521.1 520.7 2513.1 519.9 2504.3C519.1 2495.5 518.4 2482.6 517.3 2471.7C516.2 2460.8 515.0 2450.0 513.4 2439.1C511.8 2428.2 510.5 2417.4 507.9 2406.5C505.3 2395.6 502.1 2384.8 497.9 2373.9C493.6 2363.1 487.7 2352.2 482.4 2341.4C477.1 2330.6 470.4 2318.6 466.2 2308.8C462.0 2299.0 459.3 2291.4 457.4 2282.7C455.5 2274.0 454.6 2265.8 454.8 2256.6C455.0 2247.4 456.4 2237.6 458.8 2227.3C461.2 2217.0 465.3 2205.6 469.4 2194.7C473.5 2183.8 478.9 2172.9 483.4 2162.0C487.9 2151.1 492.3 2140.3 496.5 2129.5C500.7 2118.7 505.0 2107.8 508.5 2097.0C512.0 2086.2 515.0 2075.3 517.5 2064.4C520.0 2053.5 521.6 2042.7 523.2 2031.8C524.8 2020.9 526.0 2010.1 527.1 1999.2C528.2 1988.3 529.0 1977.5 529.7 1966.6C530.4 1955.7 530.9 1956.0 531.2 1934.0C531.4 1912.0 531.2 1851.2 531.2 1834.7Z" fill="#9ccdc9"/>
<rect x="533.9" y="2035.0" width="3.0" height="446.4" fill="#000"/>
<rect x="528.0" y="2202.9" width="14.7" height="111.4" fill="#000"/>
<circle cx="535.4" cy="2249.5" r="7.5" fill="#fff" stroke="#000" stroke-width="4.0"/>
<path d="M857.2 1718.7C857.2 1732.2 857.1 1779.9 857.1 1799.6C857.1 1819.3 857.0 1826.6 857.4 1837.0C857.8 1847.4 858.6 1853.6 859.7 1861.9C860.8 1870.2 862.2 1878.5 863.8 1886.8C865.4 1895.1 867.5 1903.4 869.4 1911.7C871.3 1920.0 873.5 1928.3 875.5 1936.6C877.5 1944.9 879.7 1953.2 881.7 1961.5C883.7 1969.8 885.4 1978.1 887.3 1986.4C889.2 1994.7 891.0 2003.0 893.0 2011.3C895.0 2019.6 896.8 2027.9 899.1 2036.2C901.4 2044.5 903.9 2052.7 906.6 2061.0C909.3 2069.3 912.6 2077.7 915.3 2086.0C918.0 2094.3 920.8 2102.6 922.8 2110.9C924.8 2119.2 926.4 2130.0 927.2 2135.8C928.0 2141.6 927.7 2141.5 927.5 2145.7C927.3 2149.8 927.7 2154.0 925.9 2160.7C924.1 2167.3 920.7 2177.3 916.9 2185.6C913.1 2193.9 907.5 2202.7 903.2 2210.5C899.0 2218.3 893.4 2228.8 891.4 2232.4L801.8 2232.4C799.8 2228.8 794.2 2218.3 790.0 2210.5C785.8 2202.7 780.1 2193.9 776.3 2185.6C772.5 2177.3 769.1 2167.3 767.3 2160.7C765.5 2154.0 765.9 2149.8 765.7 2145.7C765.5 2141.5 765.2 2141.6 766.0 2135.8C766.8 2130.0 768.4 2119.2 770.4 2110.9C772.4 2102.6 775.2 2094.3 777.9 2086.0C780.6 2077.7 783.9 2069.3 786.6 2061.0C789.3 2052.7 791.8 2044.5 794.1 2036.2C796.4 2027.9 798.2 2019.6 800.2 2011.3C802.2 2003.0 804.0 1994.7 805.9 1986.4C807.8 1978.1 809.5 1969.8 811.5 1961.5C813.5 1953.2 815.7 1944.9 817.7 1936.6C819.8 1928.3 821.9 1920.0 823.8 1911.7C825.8 1903.4 827.8 1895.1 829.4 1886.8C831.0 1878.5 832.4 1870.2 833.5 1861.9C834.6 1853.6 835.4 1847.4 835.8 1837.0C836.2 1826.6 836.1 1819.3 836.1 1799.6C836.1 1779.9 836.0 1732.2 836.0 1718.7Z" fill="#82a0c2"/>
<rect x="844.6" y="1738.6" width="4.0" height="493.8" fill="#000"/>
<rect x="839.1" y="1996.8" width="15.0" height="172.6" fill="#000"/>
<circle cx="846.6" cy="2117.6" r="7.5" fill="#fff" stroke="#000" stroke-width="4.0"/>
<path d="M67.05 1672.55H1004.00M67.05 2599.45H1004.00M68.50 1676.15V2599.45M1002.55 1676.15V2599.45" fill="none" stroke="#b2b2b2" stroke-width="2.9"/>
<line x1="70.0" y1="1791.2" x2="78.0" y2="1791.2" stroke="#b2b2b2" stroke-width="3.3"/>
<line x1="70.0" y1="1994.5" x2="78.0" y2="1994.5" stroke="#b2b2b2" stroke-width="3.3"/>
<line x1="70.0" y1="2198.0" x2="78.0" y2="2198.0" stroke="#b2b2b2" stroke-width="3.3"/>
<line x1="70.0" y1="2401.5" x2="78.0" y2="2401.5" stroke="#b2b2b2" stroke-width="3.3"/>
<g font-weight="bold" font-size="38" letter-spacing="-0.8">
<text x="63.5" y="1707.0" text-anchor="end" letter-spacing="0">log</text>
<text x="59.8" y="1799.9" text-anchor="end">1</text>
<text x="42.2" y="2005.5" text-anchor="end">10</text><text x="44.1" y="1993.0" font-size="24" letter-spacing="-0.3">-1</text>
<text x="42.2" y="2209.0" text-anchor="end">10</text><text x="44.1" y="2196.5" font-size="24" letter-spacing="-0.3">-2</text>
<text x="42.2" y="2412.5" text-anchor="end">10</text><text x="44.1" y="2400.0" font-size="24" letter-spacing="-0.3">-3</text>
</g>
<text x="536.3" y="2645.5" font-size="50.6" text-anchor="middle">(c) Execution Time (sec)</text>
<polyline points="1124.0,2138.5 1364.3,2088.5 1468.0,2055.0 1534.5,1981.0 1798.0,1934.0 1904.7,1860.8 1973.2,1804.0" fill="none" stroke="#2b74b0" stroke-width="10" stroke-linejoin="round"/>
<circle cx="1124.0" cy="2138.5" r="11.4" fill="#2b74b0"/>
<circle cx="1364.3" cy="2088.5" r="11.4" fill="#2b74b0"/>
<circle cx="1468.0" cy="2055.0" r="11.4" fill="#2b74b0"/>
<circle cx="1534.5" cy="1981.0" r="11.4" fill="#2b74b0"/>
<circle cx="1798.0" cy="1934.0" r="11.4" fill="#2b74b0"/>
<circle cx="1904.7" cy="1860.8" r="11.4" fill="#2b74b0"/>
<circle cx="1973.2" cy="1804.0" r="11.4" fill="#2b74b0"/>
<polyline points="1124.0,2270.0 1364.3,2251.0 1468.0,2249.0 1534.5,2227.5 1798.0,2173.5 1904.7,2139.0 1973.2,2102.0" fill="none" stroke="#72b7b0" stroke-width="10" stroke-linejoin="round"/>
<circle cx="1124.0" cy="2270.0" r="11.4" fill="#72b7b0"/>
<circle cx="1364.3" cy="2251.0" r="11.4" fill="#72b7b0"/>
<circle cx="1468.0" cy="2249.0" r="11.4" fill="#72b7b0"/>
<circle cx="1534.5" cy="2227.5" r="11.4" fill="#72b7b0"/>
<circle cx="1798.0" cy="2173.5" r="11.4" fill="#72b7b0"/>
<circle cx="1904.7" cy="2139.0" r="11.4" fill="#72b7b0"/>
<circle cx="1973.2" cy="2102.0" r="11.4" fill="#72b7b0"/>
<polyline points="1124.0,2303.5 1364.3,2301.5 1468.0,2302.5 1534.5,2300.5 1798.0,2297.0 1904.7,2298.5 1973.2,2292.5" fill="none" stroke="#f58518" stroke-width="10" stroke-linejoin="round"/>
<circle cx="1124.0" cy="2303.5" r="11.4" fill="#f58518"/>
<circle cx="1364.3" cy="2301.5" r="11.4" fill="#f58518"/>
<circle cx="1468.0" cy="2302.5" r="11.4" fill="#f58518"/>
<circle cx="1534.5" cy="2300.5" r="11.4" fill="#f58518"/>
<circle cx="1798.0" cy="2297.0" r="11.4" fill="#f58518"/>
<circle cx="1904.7" cy="2298.5" r="11.4" fill="#f58518"/>
<circle cx="1973.2" cy="2292.5" r="11.4" fill="#f58518"/>
<path d="M1081.10 1672.55H2016.85M1081.10 2559.45H2016.85M1082.55 1676.15V2559.45M2015.40 1676.15V2559.45" fill="none" stroke="#b2b2b2" stroke-width="2.9"/>
<line x1="1084.0" y1="1749.3" x2="1090.0" y2="1749.3" stroke="#b2b2b2" stroke-width="3.0"/>
<line x1="1084.0" y1="1986.5" x2="1090.0" y2="1986.5" stroke="#b2b2b2" stroke-width="3.0"/>
<line x1="1084.0" y1="2223.7" x2="1090.0" y2="2223.7" stroke="#b2b2b2" stroke-width="3.0"/>
<line x1="1084.0" y1="2460.9" x2="1090.0" y2="2460.9" stroke="#b2b2b2" stroke-width="3.0"/>
<line x1="1089.3" y1="2548" x2="1089.3" y2="2559" stroke="#b2b2b2" stroke-width="3.3"/>
<line x1="1531.5" y1="2548" x2="1531.5" y2="2559" stroke="#b2b2b2" stroke-width="3.3"/>
<line x1="1973.0" y1="2548" x2="1973.0" y2="2559" stroke="#b2b2b2" stroke-width="3.3"/>
<g font-weight="bold" font-size="38" letter-spacing="-0.8">
<text x="1076.0" y="1707.3" text-anchor="end" letter-spacing="0">log</text>
<text x="1072.3" y="1758.6" text-anchor="end">1</text>
<text x="1053.4" y="1999.5" text-anchor="end">10</text><text x="1055.3" y="1987.0" font-size="24" letter-spacing="-0.3">-1</text>
<text x="1053.4" y="2236.7" text-anchor="end">10</text><text x="1055.3" y="2224.2" font-size="24" letter-spacing="-0.3">-2</text>
<text x="1053.4" y="2473.9" text-anchor="end">10</text><text x="1055.3" y="2461.4" font-size="24" letter-spacing="-0.3">-3</text>
</g>
<g font-size="39">
<text x="1080.1" y="2595.8">10,000</text>
<text x="1531.5" y="2595.8" text-anchor="middle">100,000</text>
<text x="2014.6" y="2595.8" text-anchor="end">1,000,000</text>
</g>
<text x="1548.8" y="2646.4" font-size="50.4" text-anchor="middle">(d) Number of Points v.s. Execution Time</text>
</svg>
</body></html>
